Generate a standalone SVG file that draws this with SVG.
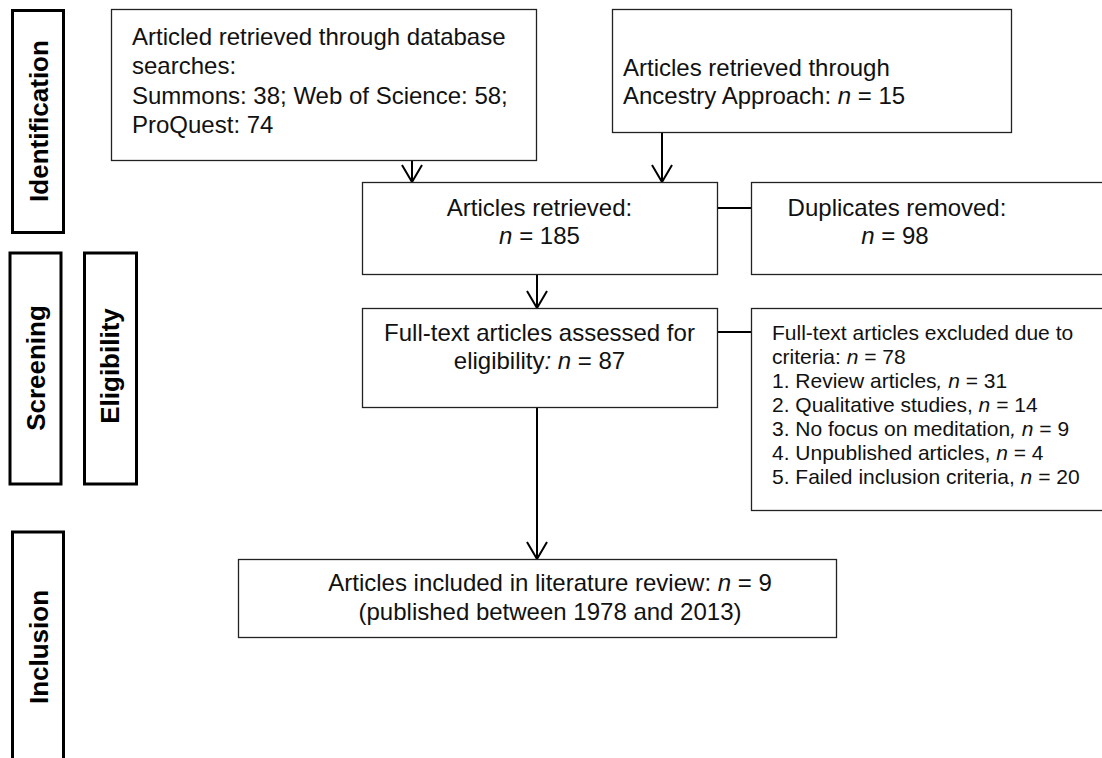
<svg xmlns="http://www.w3.org/2000/svg" width="1102" height="758" viewBox="0 0 1102 758">
<style>
.side{fill:#fff;stroke:#000;stroke-width:3}
.sidet{font-family:"Liberation Sans",Arial,sans-serif;font-weight:bold;font-size:26px;fill:#000;text-anchor:middle}
.box{fill:#fff;stroke:#222;stroke-width:1.3}
.t{font-family:"Liberation Sans",Arial,sans-serif;font-size:24px;fill:#111}
.ts{font-family:"Liberation Sans",Arial,sans-serif;font-size:21px;fill:#111}
.c{text-anchor:middle}
.i{font-style:italic}
.ln{stroke:#000;stroke-width:2;fill:none}
</style>
<defs>
<marker id="arr" markerUnits="userSpaceOnUse" markerWidth="24" markerHeight="24" refX="18" refY="10" orient="auto" viewBox="0 0 24 20">
<path d="M1,0 L18,10 L1,20" fill="none" stroke="#000" stroke-width="2"/>
</marker>
</defs>
<rect width="1102" height="758" fill="#fff"/>
<g id="stage-identification">
<rect class="side" x="12.5" y="10.5" width="51" height="222"/>
<text class="sidet" transform="translate(48,121) rotate(-90)">Identification</text>
</g>
<g id="stage-screening">
<rect class="side" x="10" y="253" width="51" height="231"/>
<text class="sidet" transform="translate(44.5,368) rotate(-90)">Screening</text>
</g>
<g id="stage-eligibility">
<rect class="side" x="84.5" y="253" width="52" height="231"/>
<text class="sidet" transform="translate(119,366) rotate(-90)">Eligibility</text>
</g>
<g id="stage-inclusion">
<rect class="side" x="12.5" y="532" width="51" height="250"/>
<text class="sidet" transform="translate(48,647) rotate(-90)">Inclusion</text>
</g>
<g id="connectors">
<line class="ln" x1="412" y1="160" x2="412" y2="182" marker-end="url(#arr)"/>
<line class="ln" x1="662" y1="132" x2="662" y2="182" marker-end="url(#arr)"/>
<line class="ln" x1="537" y1="274" x2="537" y2="308" marker-end="url(#arr)"/>
<line class="ln" x1="537" y1="407" x2="537" y2="559" marker-end="url(#arr)"/>
<line class="ln" x1="717" y1="208" x2="751" y2="208"/>
<line class="ln" x1="717" y1="332" x2="751" y2="332"/>
</g>
<g id="node-database">
<rect class="box" x="111.5" y="9.5" width="425" height="151"/>
<text class="t" x="132" y="45">Articled retrieved through database</text>
<text class="t" x="132" y="74">searches:</text>
<text class="t" x="132" y="104">Summons: 38; Web of Science: 58;</text>
<text class="t" x="132" y="133">ProQuest: 74</text>
</g>
<g id="node-ancestry">
<rect class="box" x="612.5" y="9.5" width="399" height="123"/>
<text class="t" x="623" y="76">Articles retrieved through</text>
<text class="t" x="623" y="104">Ancestry Approach: <tspan class="i">n</tspan> = 15</text>
</g>
<g id="node-retrieved">
<rect class="box" x="362.5" y="182.5" width="355" height="92"/>
<text class="t c" x="539.5" y="216">Articles retrieved:</text>
<text class="t c" x="539.5" y="244"><tspan class="i">n</tspan> = 185</text>
</g>
<g id="node-duplicates">
<rect class="box" x="751.5" y="182.5" width="360" height="92"/>
<text class="t c" x="897" y="216">Duplicates removed:</text>
<text class="t c" x="895" y="244"><tspan class="i">n</tspan> = 98</text>
</g>
<g id="node-fulltext">
<rect class="box" x="362.5" y="308.5" width="355" height="99"/>
<text class="t c" x="539.5" y="341">Full-text articles assessed for</text>
<text class="t c" x="539.5" y="369">eligibility<tspan class="i">:  n</tspan> = 87</text>
</g>
<g id="node-excluded">
<rect class="box" x="751.5" y="308.5" width="360" height="202"/>
<text class="ts" x="772" y="340">Full-text articles excluded due to</text>
<text class="ts" x="772" y="364">criteria: <tspan class="i">n</tspan> = 78</text>
<text class="ts" x="772" y="388">1. Review articles<tspan class="i">, n</tspan> = 31</text>
<text class="ts" x="772" y="412">2. Qualitative studies, <tspan class="i">n</tspan> = 14</text>
<text class="ts" x="772" y="436">3. No focus on meditation<tspan class="i">, n</tspan> = 9</text>
<text class="ts" x="772" y="460">4. Unpublished articles, <tspan class="i">n</tspan> = 4</text>
<text class="ts" x="772" y="484">5. Failed inclusion criteria, <tspan class="i">n</tspan> = 20</text>
</g>
<g id="node-included">
<rect class="box" x="238.5" y="559.5" width="598" height="78"/>
<text class="t c" x="550" y="591">Articles included in literature review: <tspan class="i">n</tspan> = 9</text>
<text class="t c" x="550" y="620">(published between 1978 and 2013)</text>
</g>
</svg>
